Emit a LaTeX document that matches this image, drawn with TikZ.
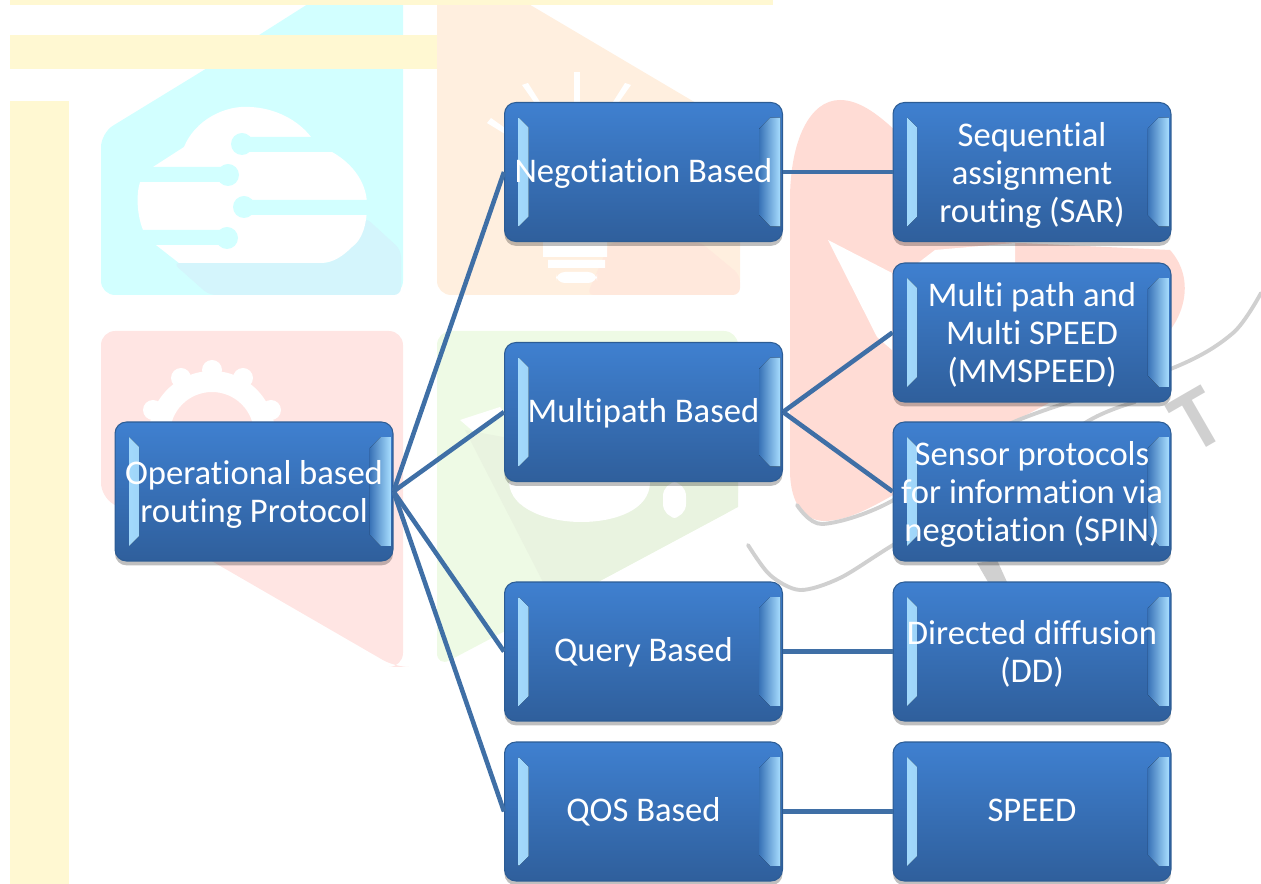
\documentclass[tikz,border=0pt]{standalone}
\usepackage{fontspec}
\setmainfont[Ligatures=NoCommon]{Carlito}
\usetikzlibrary{shadows}
\definecolor{boxtop}{HTML}{3F80D0}
\definecolor{boxbottom}{HTML}{2F5F9C}
\definecolor{boxedge}{HTML}{2C5C94}
\definecolor{bevelpale}{HTML}{A8DEFF}
\definecolor{beveldeep}{HTML}{3A74B8}
\definecolor{linkblue}{HTML}{3F6FA6}
\definecolor{stripyellow}{HTML}{FFF8D2}
\definecolor{tilecyan}{HTML}{D2FFFF}
\definecolor{shadecyan}{HTML}{D4F5FC}
\definecolor{tileorange}{HTML}{FFEFDF}
\definecolor{shadeorange}{HTML}{FFE8DC}
\definecolor{tilered}{HTML}{FFE5E3}
\definecolor{tilegreen}{HTML}{EEFAE5}
\definecolor{shadegreen}{HTML}{E9F3E0}
\definecolor{logored}{HTML}{FFDCD5}
\definecolor{logogray}{HTML}{D0D0D0}
\newcommand{\toproom}{\vrule height 18.4pt width 0pt\relax}
\tikzstyle{routing box}=[draw=boxedge, semithick, rounded corners=6.5pt,
  minimum width=5.56cm, minimum height=2.78cm, inner sep=0, align=center,
  text=white, font=\fontsize{19.7}{21.6}\selectfont,
  execute at begin node={\vrule height 16pt width 0pt},
  execute at end node={\vrule depth 4.6pt width 0pt},
  top color=boxtop, bottom color=boxbottom,
  drop shadow={shadow xshift=0pt, shadow yshift=-2.5pt, opacity=0.25, fill=black},
  path picture={
    \fill[sharp corners, left color=bevelpale, right color=beveldeep]
      ([shift={(14,15)}]path picture bounding box.north west) --
      ([shift={(24,25)}]path picture bounding box.north west) --
      ([shift={(24,-25)}]path picture bounding box.south west) --
      ([shift={(14,-15)}]path picture bounding box.south west) -- cycle;
    \fill[sharp corners, left color=beveldeep, right color=bevelpale]
      ([shift={(-2,15)}]path picture bounding box.north east) --
      ([shift={(-12,15)}]path picture bounding box.north east) --
      ([shift={(-23,26)}]path picture bounding box.north east) --
      ([shift={(-23,-26)}]path picture bounding box.south east) --
      ([shift={(-12,-15)}]path picture bounding box.south east) --
      ([shift={(-2,-15)}]path picture bounding box.south east) -- cycle;
  }]
\tikzstyle{link}=[draw=linkblue, line width=2.6pt]
\tikzstyle{swoosh}=[draw=logogray, line width=2.2pt, line cap=round]

\begin{document}
\begin{tikzpicture}[x=0.02cm, y=-0.02cm]
      \useasboundingbox (0, 0) rectangle (1261, 884);
      \clip (0, 0) rectangle (1261, 884);

      \fill[tilecyan, rounded corners=8] (101, 295) -- (101, 133) -- (204, 70) -- (330, -10) -- (403, -10) -- (403, 295) -- cycle;
      \fill[shadecyan, rounded corners=4] (173, 263) -- (332, 263) -- (365, 217) -- (401, 250) -- (401, 295) -- (209, 295) -- cycle;
      \fill[white] (153, 167) -- (184, 147) .. controls (195, 120) and (225, 105) .. (250, 107) .. controls (275, 108) and (298, 120) .. (311, 137) -- (332, 152) .. controls (355, 165) and (367, 185) .. (367, 205) .. controls (367, 225) and (362, 240) .. (352, 247) .. controls (343, 256) and (333, 263) .. (321, 263) -- (179, 263) -- (156, 245) -- (143, 230) .. controls (137, 215) and (136, 195) .. (140, 182) -- cycle;
      \fill[tilecyan] (242, 137) rectangle (345, 152) (130, 167) rectangle (228, 182) (244, 200) rectangle (370, 215) (130, 230) rectangle (227, 245);
      \fill[tilecyan] (242, 144) circle [radius=11] (228, 175) circle [radius=11] (244, 207) circle [radius=11] (227, 238) circle [radius=11];

      \fill[tileorange, rounded corners=8] (437, 295) -- (437, -10) -- (505, -10) -- (740, 129) -- (740, 295) -- cycle;
      \fill[shadeorange, rounded corners=4] (587, 295) -- (610, 242) -- (700, 242) -- (740, 275) -- (740, 295) -- cycle;
      \fill[white] (574, 72) rectangle (580, 102);
      \fill[white] (522, 85) -- (528, 83) -- (540, 102) -- (534, 102) -- cycle;
      \fill[white] (631, 85) -- (625, 83) -- (613, 102) -- (619, 102) -- cycle;
      \fill[white] (487, 123) -- (491, 118) -- (505, 128) -- (505, 134) -- cycle;
      \fill[white] (543, 242) rectangle (607, 257) (548, 260) rectangle (605, 268);
      \fill[white, rounded corners=5] (556, 272) rectangle (597, 283);

      \fill[tilered, rounded corners=8] (101, 497) -- (101, 331) -- (403, 331) -- (403, 667) -- (395, 667) -- cycle;
      \fill[white, even odd rule] (212, 434) circle [radius=63] (212, 434) circle [radius=42];
      \fill[white] (153, 410) circle [radius=10] (181, 378) circle [radius=10] (212, 370) circle [radius=10] (243, 378) circle [radius=10] (271, 410) circle [radius=10];

      \fill[tilegreen, rounded corners=8] (437, 331) -- (738, 331) -- (738, 507) -- (598, 582) -- (437, 667) -- cycle;
      \fill[shadegreen] (465, 430) -- (543, 582) -- (598, 582) -- (738, 507) -- (738, 480) -- cycle;
      \fill[white] (460, 420) -- (500, 407) -- (505, 413) -- (475, 433) -- cycle;
      \fill[white] (509, 482) .. controls (510, 510) and (550, 522) .. (581, 522) .. controls (615, 522) and (650, 510) .. (650, 482) -- cycle;
      \fill[white, rounded corners=8] (663, 482) -- (686, 482) -- (686, 518) -- (663, 518) -- cycle;

      \fill[logored] (790, 200) -- (790, 470) .. controls (790, 505) and (805, 521) .. (825, 521) .. controls (860, 520) and (893, 495) .. (1007, 425) -- (1150, 350) .. controls (1185, 325) and (1197, 280) .. (1170, 250) -- (1000, 242) -- (905, 140) .. controls (880, 115) and (860, 100) .. (840, 100) .. controls (810, 100) and (790, 140) .. (790, 200) -- cycle;
      \fill[white] (828, 240) -- (892, 273) -- (892, 350) -- (877, 337) -- cycle;
      \fill[white] (918, 263) -- (935, 250) -- (1015, 243) -- (1015, 263) -- cycle;
      \draw[swoosh] plot[smooth] coordinates {(797, 505) (822, 524) (890, 502) (1007, 425) (1173, 368) (1233, 333) (1261, 293)};
      \draw[swoosh] plot[smooth] coordinates {(748, 545) (770, 575) (800, 590) (840, 578) (893, 545) (1000, 480) (1090, 420) (1135, 402)};
      \node[text=logogray, rotate=30, font=\fontsize{50}{50}\bfseries\selectfont] (logo_t) at (1197, 420) {T};
      \fill[logogray] (977, 563) -- (997, 560) -- (1007, 582) -- (988, 582) -- cycle;

      \fill[stripyellow] (10, 0) rectangle (773, 5);
      \fill[stripyellow] (10, 35) rectangle (437, 69);
      \fill[stripyellow] (10, 101) rectangle (69, 884);

      \node[routing box] (operational) at (254, 491.5) {\toproom Operational based\\routing Protocol};

      \node[routing box] (negotiation) at (643.5, 172) {Negotiation Based};
      \node[routing box] (multipath) at (643.5, 412) {Multipath Based};
      \node[routing box] (query) at (643.5, 651.5) {Query Based};
      \node[routing box] (qos) at (643.5, 811.5) {QOS Based};

      \node[routing box] (sar) at (1032, 172) {\toproom Sequential\\assignment\\routing (SAR)};
      \node[routing box] (mmspeed) at (1032, 332.5) {\toproom Multi path and\\Multi SPEED\\(MMSPEED)};
      \node[routing box] (spin) at (1032, 491.5) {\toproom Sensor protocols\\for information via\\negotiation (SPIN)};
      \node[routing box] (dd) at (1032, 651.5) {\toproom Directed diffusion\\(DD)};
      \node[routing box] (speed) at (1032, 811.5) {SPEED};

      \draw[link] (operational.east) to (negotiation.west);
      \draw[link] (operational.east) to (multipath.west);
      \draw[link] (operational.east) to (query.west);
      \draw[link] (operational.east) to (qos.west);
      \draw[link] (negotiation) to (sar);
      \draw[link] (multipath.east) to (mmspeed.west);
      \draw[link] (multipath.east) to (spin.west);
      \draw[link] (query) to (dd);
      \draw[link] (qos) to (speed);
    \end{tikzpicture}
\end{document}
